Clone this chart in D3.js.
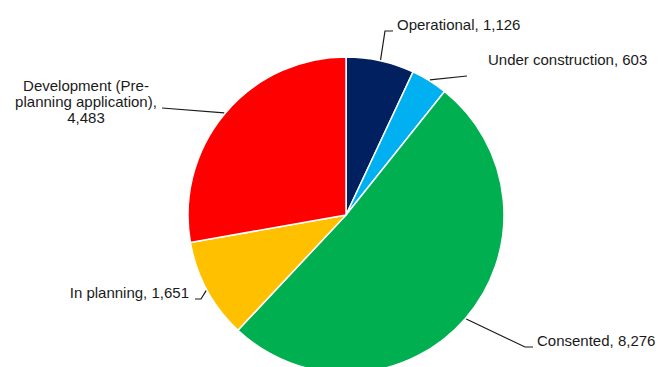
<!doctype html>
<html lang="en">
<head>
  <meta charset="utf-8">
  <title>Pipeline pie</title>
  <script src="https://d3js.org/d3.v7.min.js"></script>
  <style>
    body { margin: 0; background: #fff; }
    .label { font-family: "Liberation Sans", Arial, sans-serif; font-size: 15px; fill: #1a1a1a; }
    .leader { fill: none; stroke: #1a1a1a; stroke-width: 1.2; }
  </style>
</head>
<body>
<div class="chart-container"></div>
<script>
  // data, clockwise from 12 o'clock
  const categories = ['Operational', 'Under construction', 'Consented', 'In planning', 'Development (Pre-planning application)'];
  const values = [1126, 603, 8276, 1651, 4483];
  const labelLines = [
    ['Operational, 1,126'],
    ['Under construction, 603'],
    ['Consented, 8,276'],
    ['In planning, 1,651'],
    ['Development (Pre-', 'planning application),', '4,483']
  ];
  const colours = ['#002060', '#00b0f0', '#00b050', '#ffc000', '#ff0000'];

  const width = 664;
  const height = 367;
  const cx = 346, cy = 215, radius = 158;

  // where each label sits and how its leader bends
  const labelLayout = [
    { x: 397, y: 30, anchor: 'start', bends: [[385, 31], [393, 31]] },
    { x: 488, y: 65, anchor: 'start', bends: [[467, 76]] },
    { x: 537, y: 346, anchor: 'start', bends: [[525, 347], [533, 347]] },
    { x: 189, y: 298, anchor: 'end', bends: [[201, 299], [195, 299]] },
    { x: 86, y: 91, anchor: 'middle', bends: [[162, 108]] }
  ];

  const svg = d3.select('.chart-container').append('svg')
    .attr('width', width)
    .attr('height', height);

  const data = categories.map((c, i) => ({ name: c, value: values[i], i }));

  const pie = d3.pie()
    .sort(null)
    .value(d => d.value);

  const arc = d3.arc()
    .innerRadius(0)
    .outerRadius(radius);

  const arcs = pie(data);

  const g = svg.append('g')
    .attr('transform', `translate(${cx},${cy})`);

  g.selectAll('path.slice')
    .data(arcs)
    .enter()
    .append('path')
    .attr('class', 'slice')
    .attr('d', arc)
    .style('fill', d => colours[d.data.i])
    .style('stroke', '#fff')
    .style('stroke-width', 1.5);

  // leader lines start on the rim at each slice's middle angle
  const rimPoint = d => {
    const a = (d.startAngle + d.endAngle) / 2;
    return [cx + (radius + 1) * Math.sin(a), cy - (radius + 1) * Math.cos(a)];
  };

  svg.selectAll('path.leader')
    .data(arcs)
    .enter()
    .append('path')
    .attr('class', 'leader')
    .attr('d', d => d3.line()([rimPoint(d)].concat(labelLayout[d.data.i].bends)));

  const labels = svg.selectAll('text.label')
    .data(arcs)
    .enter()
    .append('text')
    .attr('class', 'label')
    .attr('x', d => labelLayout[d.data.i].x)
    .attr('y', d => labelLayout[d.data.i].y)
    .style('text-anchor', d => labelLayout[d.data.i].anchor);

  labels.selectAll('tspan')
    .data(d => labelLines[d.data.i].map(t => ({ t, x: labelLayout[d.data.i].x })))
    .enter()
    .append('tspan')
    .attr('x', d => d.x)
    .attr('dy', (d, i) => i ? 16 : 0)
    .text(d => d.t);
</script>
</body>
</html>
